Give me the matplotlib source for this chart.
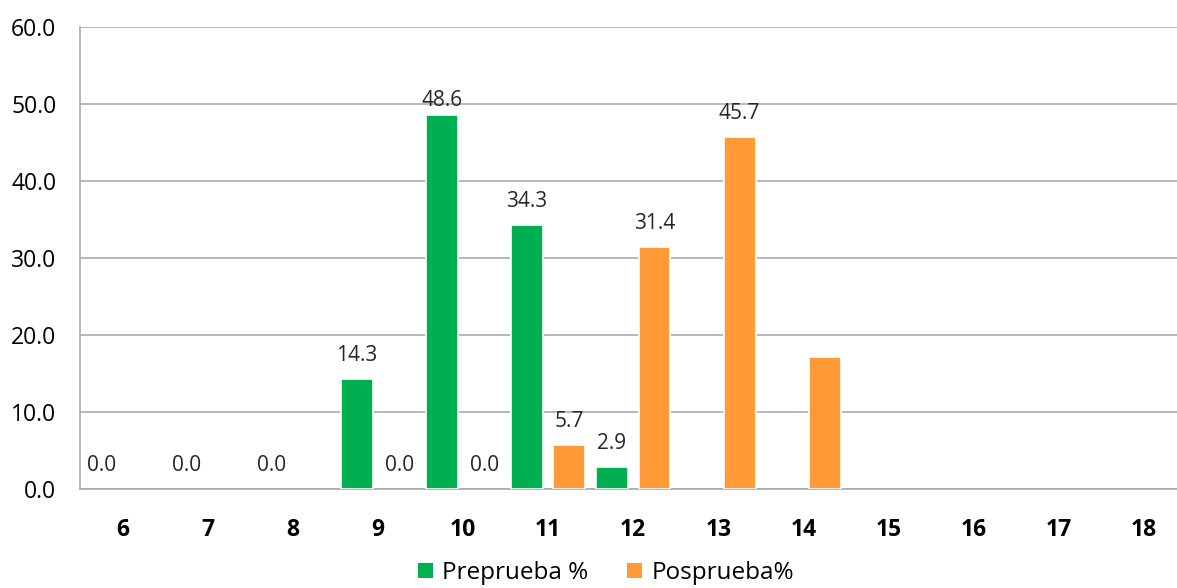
import numpy as np
import matplotlib
matplotlib.use('Agg')
import matplotlib.pyplot as plt

plt.rcParams['font.family'] = ['Open Sans', 'DejaVu Sans']

# edades (categorías del eje x)
edades = ['6', '7', '8', '9', '10', '11', '12', '13', '14', '15', '16', '17', '18']
# porcentajes; nan = sin barra ni etiqueta
preprueba = [0.0, 0.0, 0.0, 14.3, 48.6, 34.3, 2.9, np.nan, np.nan, np.nan, np.nan, np.nan, np.nan]
posprueba = [np.nan, np.nan, np.nan, 0.0, 0.0, 5.7, 31.4, 45.7, 17.1, np.nan, np.nan, np.nan, np.nan]
# la barra de 14 años no lleva etiqueta
posprueba_sin_etiqueta = ['14']

verde = '#00B050'
naranja = '#FF9A36'

fig = plt.figure(figsize=(11.77, 5.88), dpi=100)
ax = fig.add_axes([0.068, 0.1684, 0.940, 0.7856])

x = np.arange(len(edades))
ancho = 0.375
desp = 0.25


def barras(pos, valores, color, nombre):
    v = np.nan_to_num(valores)
    # las barras en cero no llevan borde, para no tapar el eje
    bordes = [1.2 if h > 0 else 0 for h in v]
    return ax.bar(pos, v, ancho, color=color, edgecolor='white',
                  linewidth=bordes, zorder=3, label=nombre)


b1 = barras(x - desp, preprueba, verde, 'Preprueba %')
b2 = barras(x + desp, posprueba, naranja, 'Posprueba%')


def etiquetar(xs, valores, omitir=()):
    for xi, v, e in zip(xs, valores, edades):
        if np.isnan(v) or e in omitir:
            continue
        # cerca del borde superior la etiqueta queda más pegada a la barra
        off = 4 if v > 47 else 13
        ax.annotate(f'{v:.1f}', (xi, v), xytext=(0, off), textcoords='offset pixels',
                    ha='center', va='bottom', fontsize=15, color='#262626', zorder=4)


etiquetar(x - desp, preprueba)
etiquetar(x + desp, posprueba, posprueba_sin_etiqueta)

ax.set_xlim(-0.5, len(edades) - 0.5)
ax.set_ylim(0, 60)
ax.set_yticks(np.arange(0, 61, 10))
ax.set_yticklabels([f'{t:.1f}' for t in np.arange(0, 61, 10)], fontsize=16.5)
ax.set_xticks(x)
ax.set_xticklabels(edades, fontsize=16.5, fontweight='bold')
ax.tick_params(axis='y', length=0, pad=17)
ax.tick_params(axis='x', length=0, pad=21)

ax.grid(axis='y', color='#ABABAB', linewidth=1.2, zorder=0)
ax.set_axisbelow(True)
for s in ['top', 'right']:
    ax.spines[s].set_visible(False)
for s in ['left', 'bottom']:
    ax.spines[s].set_color('#ABABAB')
    ax.spines[s].set_linewidth(1.2)

fig.legend(handles=[b1, b2], loc='center', bbox_to_anchor=(0.515, 0.025),
           ncol=2, frameon=False, fontsize=17.5, handlelength=0.6, handleheight=0.6,
           handletextpad=0.4, columnspacing=1.6)

fig.savefig('out.png', dpi=100)
